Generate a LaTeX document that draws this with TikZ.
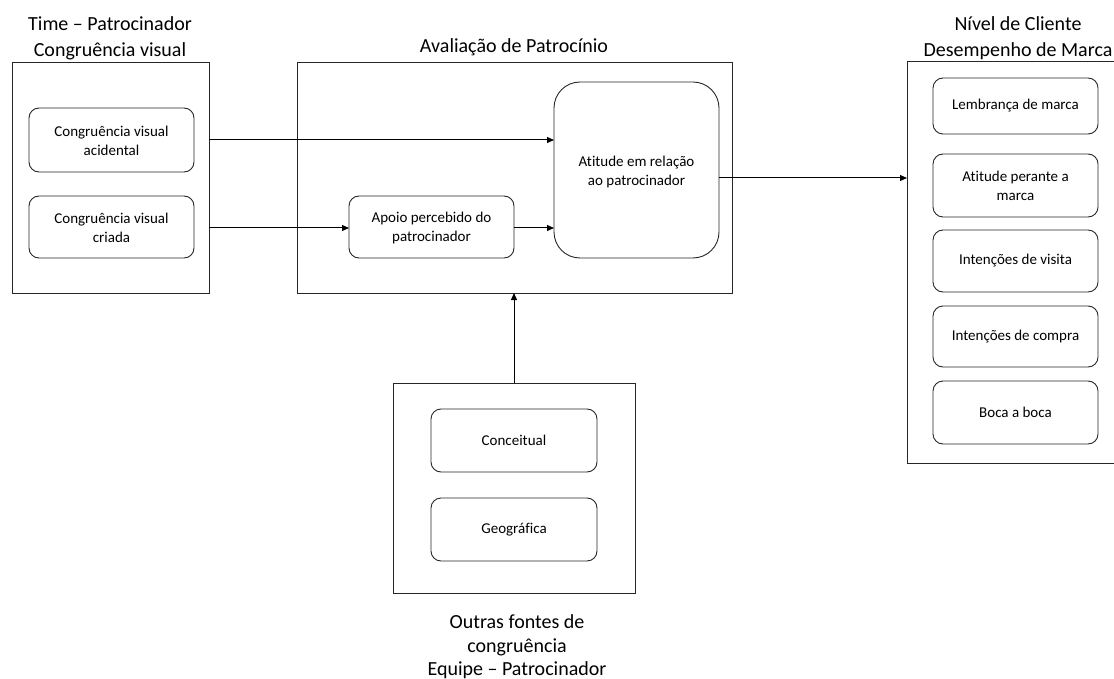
\documentclass[tikz,border=0pt]{standalone}
\usepackage{fontspec}
\setmainfont{Carlito}[Ligatures=NoCommon]
\usetikzlibrary{arrows.meta}
\begin{document}
\begin{tikzpicture}[x=1pt,y=-1pt,
  frame/.style={draw=black!85, line width=1pt},
  item/.style={draw=black!85, line width=0.9pt, rounded corners=10pt},
  itemtext/.style={align=center, font=\fontsize{15}{19}\selectfont},
  heading/.style={align=center, font=\fontsize{20}{26}\selectfont},
  link/.style={draw=black, line width=1pt, -{Triangle[length=7pt,width=6pt]}}]
\useasboundingbox (0,0) rectangle (1114,679);
\clip (0,0) rectangle (1114,679);

% Left group: visual congruence
\draw[frame] (12,63) rectangle (209,293);
\node[heading] (tl) at (110,38) {Time – Patrocinador\\Congruência visual};
\draw[item] (29,108) rectangle (194,172);
\node[itemtext] (acid) at (111.5,141) {Congruência visual\\acidental};
\draw[item] (29,196) rectangle (194,258);
\node[itemtext] (criada) at (111.5,228) {Congruência visual\\criada};
\coordinate (lr1) at (209,140);
\coordinate (lr2) at (209,228);

% Middle group: sponsorship evaluation
\draw[frame] (297,63) rectangle (732,293);
\node[heading] (tm) at (514,47) {Avaliação de Patrocínio};
\draw[item, rounded corners=26pt] (554,82) rectangle (719,258);
\node[itemtext] (atit) at (636.5,172) {Atitude em relação\\ao patrocinador};
\draw[item] (349,196) rectangle (514,258);
\node[itemtext] (apoio) at (431.5,228) {Apoio percebido do\\patrocinador};
\coordinate (atL1) at (554,140);
\coordinate (atL2) at (554,228);
\coordinate (apL) at (349,228);
\coordinate (apR) at (514,228);
\coordinate (atR) at (719,178);
\coordinate (mb) at (514,293);

% Right group: brand performance
\draw[frame] (907,62) rectangle (1125,463);
\node[heading] (tr) at (1018,38) {Nível de Cliente\\Desempenho de Marca};
\coordinate (rl) at (907,178);
\draw[item] (933,78) rectangle (1098,134);
\node[itemtext] (r1) at (1015.5,106) {Lembrança de marca};
\draw[item] (933,154) rectangle (1098,217);
\node[itemtext] (r2) at (1015.5,186) {Atitude perante a\\marca};
\draw[item] (933,230) rectangle (1098,292);
\node[itemtext] (r3) at (1015.5,261) {Intenções de visita};
\draw[item] (933,306) rectangle (1098,367);
\node[itemtext] (r4) at (1015.5,336.5) {Intenções de compra};
\draw[item] (933,381) rectangle (1098,444);
\node[itemtext] (r5) at (1015.5,412.5) {Boca a boca};

% Bottom group: other sources of congruence
\draw[frame] (393,383) rectangle (635,593);
\coordinate (bt) at (514,383);
\draw[item] (431,409) rectangle (597,472);
\node[itemtext] (conc) at (514,440.5) {Conceitual};
\draw[item] (431,498) rectangle (597,561);
\node[itemtext] (geo) at (514,529.5) {Geográfica};
\node[heading, font=\fontsize{20}{23.5}\selectfont] (tb) at (517,647) {Outras fontes de\\congruência\\Equipe – Patrocinador};

% Connectors
\draw[link] (lr1) -- (atL1);
\draw[link] (lr2) -- (apL);
\draw[link] (apR) -- (atL2);
\draw[link] (atR) -- (rl);
\draw[link] (bt) -- (mb);
\end{tikzpicture}
\end{document}
